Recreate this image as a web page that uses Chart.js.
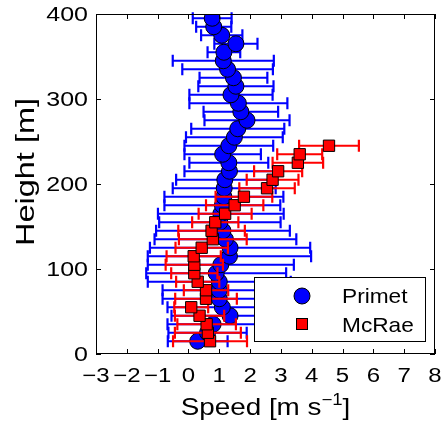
<!DOCTYPE html>
<html>
<head>
<meta charset="utf-8">
<script src="https://cdn.jsdelivr.net/npm/chart.js@4.4.1/dist/chart.umd.min.js"></script>
<style>
  html, body { margin: 0; padding: 0; background: #fff; }
</style>
</head>
<body>
<canvas id="chart" width="444" height="428"></canvas>
<script>
// Heights [m] and mean speeds [m/s] with error half-widths
const primetHeights = [15, 25, 35, 45, 55, 65, 75, 85, 95, 105, 115, 125, 135, 145, 155, 165, 175, 185, 195, 205,
                       215, 225, 235, 245, 255, 265, 275, 285, 295, 305, 315, 325, 335, 345, 355, 365, 375, 385, 395];
const primetSpeed = [0.30, 0.62, 0.80, 1.35, 1.10, 1.00, 1.00, 1.00, 0.90, 1.05, 1.33, 1.35, 1.20, 1.12, 1.02, 1.05, 1.10, 1.15, 1.16, 1.18,
                     1.33, 1.31, 1.11, 1.31, 1.49, 1.60, 1.90, 1.70, 1.62, 1.38, 1.54, 1.46, 1.27, 1.13, 1.15, 1.54, 1.08, 0.82, 0.77];
const primetErr = [0.97, 1.27, 1.48, 1.90, 1.78, 1.84, 1.84, 2.32, 2.27, 2.37, 2.65, 2.60, 2.30, 2.17, 1.97, 2.04, 1.88, 1.93, 1.67, 1.58,
                   1.46, 1.28, 1.24, 1.44, 1.57, 1.51, 1.38, 1.21, 1.59, 1.35, 1.22, 1.10, 1.47, 1.64, 0.53, 0.70, 0.67, 0.57, 0.63];

const mcraeHeights = [15, 25, 35, 45, 55, 65, 75, 85, 95, 105, 115, 125, 135, 145, 155, 165, 175, 185, 195, 205, 215, 225, 235, 245];
const mcraeSpeed = [0.70, 0.63, 0.59, 0.36, 0.09, 0.57, 0.57, 0.30, 0.19, 0.19, 0.17, 0.43, 0.79, 0.75, 0.87, 1.19, 1.50, 1.80,
                    2.55, 2.73, 2.91, 3.55, 3.61, 4.56];
const mcraeErr = [1.20, 1.07, 0.95, 0.80, 0.55, 1.00, 0.72, 0.70, 0.75, 0.93, 0.88, 0.85, 1.10, 1.08, 0.75, 0.86, 0.93, 0.92,
                  0.90, 0.84, 0.78, 0.82, 0.73, 0.97];

const speedTicks = [-3, -2, -1, 0, 1, 2, 3, 4, 5, 6, 7, 8];
const heightTicks = [0, 100, 200, 300, 400];

const BLUE = '#0000ff';
const RED = '#ff0000';
const FONT = '"Liberation Sans", Arial, Helvetica, sans-serif';

function toPoints(xs, ys) {
    return xs.map((v, i) => ({ x: v, y: ys[i] }));
}

// text squeezed/stretched horizontally like the original figure
function drawText(ctx, text, x, y, sx, align) {
    ctx.save();
    ctx.translate(x, y);
    ctx.scale(sx, 1);
    ctx.textAlign = align;
    ctx.fillText(text, 0, 0);
    ctx.restore();
}

const errorBars = {
    id: 'errorBars',
    beforeDatasetDraw(chart, args) {
        const ds = chart.data.datasets[args.index];
        const xs = chart.scales.x, ys = chart.scales.y;
        const ctx = chart.ctx;
        ctx.save();
        ctx.strokeStyle = ds.barColor;
        ctx.lineWidth = 2.2;
        ds.data.forEach((p, i) => {
            const e = ds.errors[i];
            const x0 = xs.getPixelForValue(p.x - e);
            const x1 = xs.getPixelForValue(p.x + e);
            const y = ys.getPixelForValue(p.y);
            ctx.beginPath();
            ctx.moveTo(x0, y); ctx.lineTo(x1, y);
            ctx.moveTo(x0, y - 6); ctx.lineTo(x0, y + 6);
            ctx.moveTo(x1, y - 6); ctx.lineTo(x1, y + 6);
            ctx.stroke();
        });
        ctx.restore();
    }
};

const frame = {
    id: 'frame',
    afterDraw(chart) {
        const ctx = chart.ctx;
        const a = chart.chartArea;
        const xs = chart.scales.x, ys = chart.scales.y;
        ctx.save();
        ctx.strokeStyle = '#000';
        ctx.fillStyle = '#000';
        ctx.lineWidth = 1;
        ctx.strokeRect(a.left + 0.5, a.top + 0.5, a.right - a.left - 1, a.bottom - a.top - 1);

        // inward ticks on all four sides
        ctx.beginPath();
        speedTicks.forEach(v => {
            const x = Math.round(xs.getPixelForValue(v)) + 0.5;
            ctx.moveTo(x, a.bottom); ctx.lineTo(x, a.bottom - 5);
            ctx.moveTo(x, a.top); ctx.lineTo(x, a.top + 5);
        });
        heightTicks.forEach(v => {
            const y = Math.round(ys.getPixelForValue(v)) + 0.5;
            ctx.moveTo(a.left, y); ctx.lineTo(a.left + 5, y);
            ctx.moveTo(a.right, y); ctx.lineTo(a.right - 5, y);
        });
        ctx.stroke();

        // tick labels
        ctx.font = '20px ' + FONT;
        ctx.textBaseline = 'alphabetic';
        speedTicks.forEach(v => {
            const label = String(v).replace('-', '\u2212');
            drawText(ctx, label, xs.getPixelForValue(v), a.bottom + 28, 1.2, 'center');
        });
        heightTicks.forEach(v => {
            drawText(ctx, String(v), a.left - 8, ys.getPixelForValue(v) + 7, 1.25, 'right');
        });

        // x title with superscript
        const sx = 1.16;
        const main = 'Speed [m s';
        ctx.font = '24px ' + FONT;
        const wMain = ctx.measureText(main).width;
        const wClose = ctx.measureText(']').width;
        ctx.font = '16px ' + FONT;
        const wSup = ctx.measureText('\u22121').width;
        const total = (wMain + wSup + wClose) * sx;
        let x = (a.left + a.right) / 2 - total / 2;
        const base = 415;
        ctx.font = '24px ' + FONT;
        drawText(ctx, main, x, base, sx, 'left');
        x += wMain * sx;
        ctx.font = '16px ' + FONT;
        drawText(ctx, '\u22121', x, base - 10, sx, 'left');
        x += wSup * sx;
        ctx.font = '24px ' + FONT;
        drawText(ctx, ']', x, base, sx, 'left');

        // y title (rotated, stretched along its length)
        ctx.save();
        ctx.translate(34, 172);
        ctx.rotate(-Math.PI / 2);
        ctx.scale(1.3, 1);
        ctx.font = '25px ' + FONT;
        ctx.textAlign = 'center';
        ctx.fillText('Height [m]', 0, 0);
        ctx.restore();

        // legend
        ctx.fillStyle = '#fff';
        ctx.fillRect(254, 277, 172, 65);
        ctx.strokeRect(254.5, 277.5, 171, 64);
        ctx.lineWidth = 1;
        ctx.fillStyle = BLUE;
        ctx.beginPath();
        ctx.arc(302, 296, 8, 0, Math.PI * 2);
        ctx.fill();
        ctx.stroke();
        ctx.fillStyle = RED;
        ctx.fillRect(296.5, 318.5, 11, 11);
        ctx.strokeRect(296.5, 318.5, 11, 11);
        ctx.fillStyle = '#000';
        ctx.font = '21px ' + FONT;
        drawText(ctx, 'Primet', 342, 303, 1.08, 'left');
        drawText(ctx, 'McRae', 342, 332, 1.08, 'left');
        ctx.restore();
    }
};

new Chart(document.getElementById('chart'), {
    type: 'scatter',
    data: {
        datasets: [
            {
                label: 'McRae',
                data: toPoints(mcraeSpeed, mcraeHeights),
                errors: mcraeErr,
                barColor: RED,
                pointStyle: 'rect',
                pointRadius: 8,
                backgroundColor: RED,
                borderColor: '#000',
                borderWidth: 1
            },
            {
                label: 'Primet',
                data: toPoints(primetSpeed, primetHeights),
                errors: primetErr,
                barColor: BLUE,
                pointStyle: 'circle',
                pointRadius: 8,
                backgroundColor: BLUE,
                borderColor: '#000',
                borderWidth: 1
            }
        ]
    },
    options: {
        responsive: false,
        animation: false,
        layout: { padding: { top: 14, right: 8, left: 0, bottom: 0 } },
        plugins: {
            legend: { display: false },
            tooltip: { enabled: false }
        },
        scales: {
            x: {
                type: 'linear',
                min: -3,
                max: 8,
                grid: { display: false, drawTicks: false },
                border: { display: false },
                ticks: { display: false, stepSize: 1 },
                afterFit: s => { s.height = 74; }
            },
            y: {
                type: 'linear',
                min: 0,
                max: 400,
                grid: { display: false, drawTicks: false },
                border: { display: false },
                ticks: { display: false, stepSize: 100 },
                afterFit: s => { s.width = 96; }
            }
        }
    },
    plugins: [errorBars, frame]
});
</script>
</body>
</html>
